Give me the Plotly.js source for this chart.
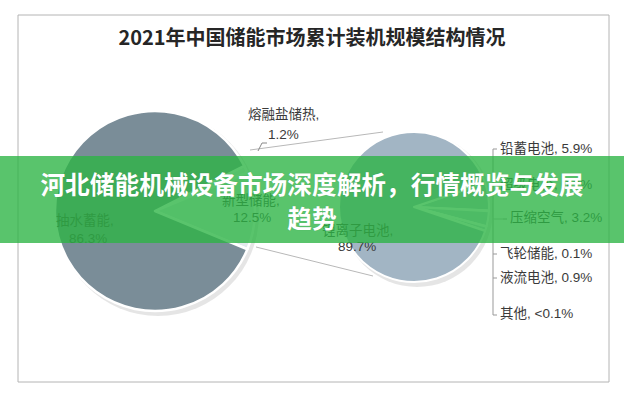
<!DOCTYPE html>
<html>
<head>
<meta charset="utf-8">
<script src="https://cdn.plot.ly/plotly-3.0.1.min.js"></script>
<style>
  html, body { margin: 0; padding: 0; background: #fff; }
  #wrap { position: relative; width: 624px; height: 400px; overflow: hidden; }
  #chart { width: 624px; height: 400px; }
  #banner {
    position: absolute; left: 0; top: 156px; width: 624px; height: 87px;
    background: rgba(44,180,69,0.79); color: #fff; text-align: center;
    font-family: "Noto Sans CJK SC", sans-serif; font-weight: 700;
    font-size: 24.7px; line-height: 34px; padding-top: 10px; box-sizing: border-box;
    pointer-events: none; text-shadow: 0 0 1px rgba(0,0,0,0.15);
  }
</style>
</head>
<body>
<div id="wrap">
  <div id="chart"></div>
  <div id="banner"></div>
</div>
<script>
// ---- data ----
const chartTitle = '2021年中国储能市场累计装机规模结构情况';
const bannerLines = ['河北储能机械设备市场深度解析，行情概览与发展', '趋势'];

const bigLabels = ['熔融盐储热', '新型储能', '抽水蓄能'];
const bigValues = [1.2, 12.5, 86.3];
const bigText   = ['1.2%', '12.5%', '86.3%'];

const smallLabels = ['铅蓄电池', '超级电容', '压缩空气', '飞轮储能', '液流电池', '其他', '锂离子电池'];
const smallValues = [5.9, 0.2, 3.2, 0.1, 0.9, 0.05, 89.7];
const smallText   = ['5.9%', '0.2%', '3.2%', '0.1%', '0.9%', '<0.1%', '89.7%'];

// ---- layout helpers ----
const W = 624, H = 400;
const px = (x) => x / W;
const py = (y) => (H - y) / H;

document.getElementById('banner').innerHTML = bannerLines.join('<br>');

const bigC = [155, 211], bigR = 100;
const smC = [414, 207], smR = 75;

const sum = a => a.reduce((s, v) => s + v, 0);
const bigTotal = sum(bigValues);
const bigRot = 90 - 360 * (bigValues[0] + bigValues[1] / 2) / bigTotal;
const smTotal = sum(smallValues);
const smRot = 90 - 360 * (smTotal - smallValues[smallValues.length - 1]) / smTotal / 2;

const shadow = (c, r) => ({
  type: 'circle', xref: 'paper', yref: 'paper', layer: 'below',
  x0: px(c[0] - r + 2), x1: px(c[0] + r + 4), y0: py(c[1] + r + 5), y1: py(c[1] - r + 1),
  fillcolor: 'rgba(0,0,0,0.10)', line: { width: 0 }
});

const traces = [
  {
    type: 'pie', labels: bigLabels, values: bigValues, sort: false,
    direction: 'clockwise', rotation: bigRot, textinfo: 'none', hoverinfo: 'label+percent',
    marker: { colors: ['#eef1f3', '#e3e9ed', '#7a8d98'], line: { color: '#ffffff', width: 2.5 } },
    domain: { x: [px(bigC[0] - bigR), px(bigC[0] + bigR)], y: [py(bigC[1] + bigR), py(bigC[1] - bigR)] },
    showlegend: false
  },
  {
    type: 'pie', labels: smallLabels, values: smallValues, sort: false,
    direction: 'clockwise', rotation: smRot, textinfo: 'none', hoverinfo: 'label+percent',
    marker: { colors: ['#bccbd6', '#d3dde4', '#c6d3dc', '#dbe3e9', '#cdd8e0', '#e2e8ec', '#a2b5c4'],
              line: { color: '#ffffff', width: 2 } },
    domain: { x: [px(smC[0] - smR), px(smC[0] + smR)], y: [py(smC[1] + smR), py(smC[1] - smR)] },
    showlegend: false
  }
];

const lblFont = { family: 'Liberation Sans, Noto Sans CJK SC, sans-serif', size: 13.5, color: '#3a3a3a' };
const ann = (x, y, text, anchor, extra) => Object.assign({
  xref: 'paper', yref: 'paper', x: px(x), y: py(y), text: text, showarrow: false,
  xanchor: anchor || 'center', yanchor: 'middle', font: lblFont
}, extra || {});

const annotations = [
  ann(283, 114, bigLabels[0] + ','), ann(283, 134, bigText[0]),
  ann(251, 200, bigLabels[1] + ','), ann(252, 217, bigText[1]),
  ann(85, 220, bigLabels[2] + ','), ann(88, 238, bigText[2]),
  ann(357, 230, smallLabels[6] + ','), ann(357, 246, smallText[6])
];
const rightY = [148, 184, 218, 253, 277, 313];
const rightX = [498, 498, 508, 498, 498, 498];
for (let i = 0; i < 6; i++) {
  annotations.push(ann(rightX[i], rightY[i], smallLabels[i] + ', ' + smallText[i], 'left'));
}

const line = (x0, y0, x1, y1, color, w) => ({
  type: 'line', xref: 'paper', yref: 'paper', x0: px(x0), y0: py(y0), x1: px(x1), y1: py(y1),
  line: { color: color || '#a8a8a8', width: w || 1 }
});

const shapes = [
  { type: 'rect', xref: 'paper', yref: 'paper', x0: px(18), x1: px(609), y0: py(382), y1: py(15),
    line: { color: '#b4b4b4', width: 1 }, fillcolor: 'rgba(0,0,0,0)', layer: 'below' },
  shadow(bigC, bigR), shadow(smC, smR),
  line(250, 150, 383, 132, '#b8b8b8'),
  line(256, 247, 373, 276, '#b8b8b8'),
  line(258, 151, 262, 143, '#888'), line(262, 143, 267, 143, '#888'),
  line(493, 149, 493, 315, '#999'),
  line(493, 149, 497, 149, '#999'),
  line(493, 184, 497, 184, '#999'),
  line(503, 219, 507, 219, '#999'), line(493, 219, 503, 219, '#bbb'),
  line(493, 254, 497, 254, '#999'),
  line(493, 278, 497, 278, '#999'),
  line(493, 315, 497, 315, '#999')
];

const layout = {
  width: W, height: H, margin: { l: 0, r: 0, t: 0, b: 0 },
  paper_bgcolor: '#ffffff',
  title: { text: chartTitle, x: 0.5, xanchor: 'center', y: py(38), yanchor: 'middle', yref: 'paper',
           font: { family: 'Noto Sans CJK SC, sans-serif', size: 20, color: '#262626', weight: 700 } },
  annotations: annotations,
  shapes: shapes
};

Plotly.newPlot('chart', traces, layout, { displayModeBar: false, staticPlot: true });
</script>
</body>
</html>
